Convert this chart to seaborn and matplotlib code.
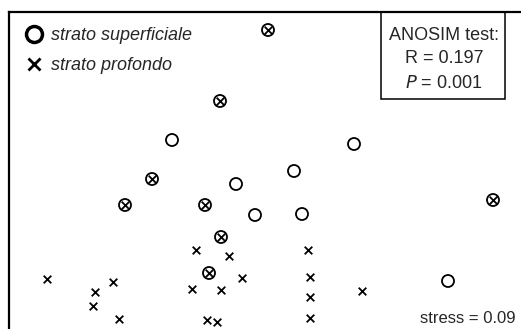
import seaborn as sns
import numpy as np
import pandas as pd
import matplotlib.pyplot as plt
from matplotlib.lines import Line2D
from matplotlib.patches import Rectangle

sns.set_style("white")
plt.rcParams['font.family'] = ['Liberation Sans', 'DejaVu Sans']

# NMDS coordinates, strato superficiale (circles)
sup_x = [-0.49, 0.42, 0.12, -0.17, -0.075, 0.16, 0.89,
         -0.01, -0.25, -0.59, -0.725, -0.325, 1.115, -0.245, -0.305]
sup_y = [0.30, 0.28, 0.145, 0.08, -0.075, -0.07, -0.405,
         0.85, 0.495, 0.105, -0.025, -0.025, 0.0, -0.185, -0.365]

# NMDS coordinates, strato profondo (crosses)
prof_x = [-0.01, -0.25, -0.59, -0.725, -0.325, 1.115, -0.245, -0.305,
          -1.115, -0.875, -0.785, -0.885, -0.755, -0.37, -0.205, -0.39,
          -0.245, -0.14, -0.315, -0.265, 0.19, 0.20, 0.20, 0.46, 0.20]
prof_y = [0.85, 0.495, 0.105, -0.025, -0.025, 0.0, -0.185, -0.365,
          -0.395, -0.46, -0.41, -0.53, -0.595, -0.25, -0.28, -0.445,
          -0.45, -0.39, -0.60, -0.61, -0.25, -0.385, -0.485, -0.455, -0.59]

labels = ['strato superficiale', 'strato profondo']
anosim = ['ANOSIM test:', 'R = 0.197', '$\\it{P}$ = 0.001']
stress = 'stress = 0.09'

sup = pd.DataFrame({'x': sup_x, 'y': sup_y})
prof = pd.DataFrame({'x': prof_x, 'y': prof_y})

fig = plt.figure(figsize=(5.21, 3.29), dpi=100)
ax = fig.add_axes([9 / 521, -6 / 329, 1.0, 323 / 329])

pts = sns.scatterplot(data=sup, x='x', y='y', marker='o', s=75,
                      facecolor='none', edgecolor='black', linewidth=1.3, ax=ax)
pts.collections[0].set_facecolor('none')
sns.scatterplot(data=prof, x='x', y='y', marker='x', s=30,
                color='black', linewidth=1.3, ax=ax)

ax.set_xlim(-1.305, 1.3)
ax.set_ylim(-0.675, 0.94)
ax.set(xlabel='', ylabel='', xticks=[], yticks=[])
for s in ax.spines.values():
    s.set_linewidth(1.6)
    s.set_color('black')

handles = [Line2D([], [], marker='o', ls='', markersize=11.5, markerfacecolor='none',
                  markeredgecolor='black', markeredgewidth=2.5),
           Line2D([], [], marker='x', ls='', markersize=8, color='black',
                  markeredgewidth=2.0)]
leg = ax.legend(handles, labels, loc='upper left', bbox_to_anchor=(0.004, 0.99),
                frameon=False, handletextpad=0.35, labelspacing=0.72,
                prop={'size': 13, 'style': 'italic'}, handlelength=1.2,
                borderaxespad=0.25)

ax.add_patch(Rectangle((0.714, 0.7307), 0.238, 0.2693, transform=ax.transAxes,
                       fill=False, lw=1.1, ec='black', zorder=5))
for txt, yy in zip(anosim, [0.926, 0.855, 0.779]):
    ax.text(0.835, yy, txt, transform=ax.transAxes, ha='center', va='center',
            fontsize=13)
ax.text(0.972, 0.05, stress, transform=ax.transAxes, ha='right', va='center',
        fontsize=12)

fig.savefig('out.png', dpi=100)
